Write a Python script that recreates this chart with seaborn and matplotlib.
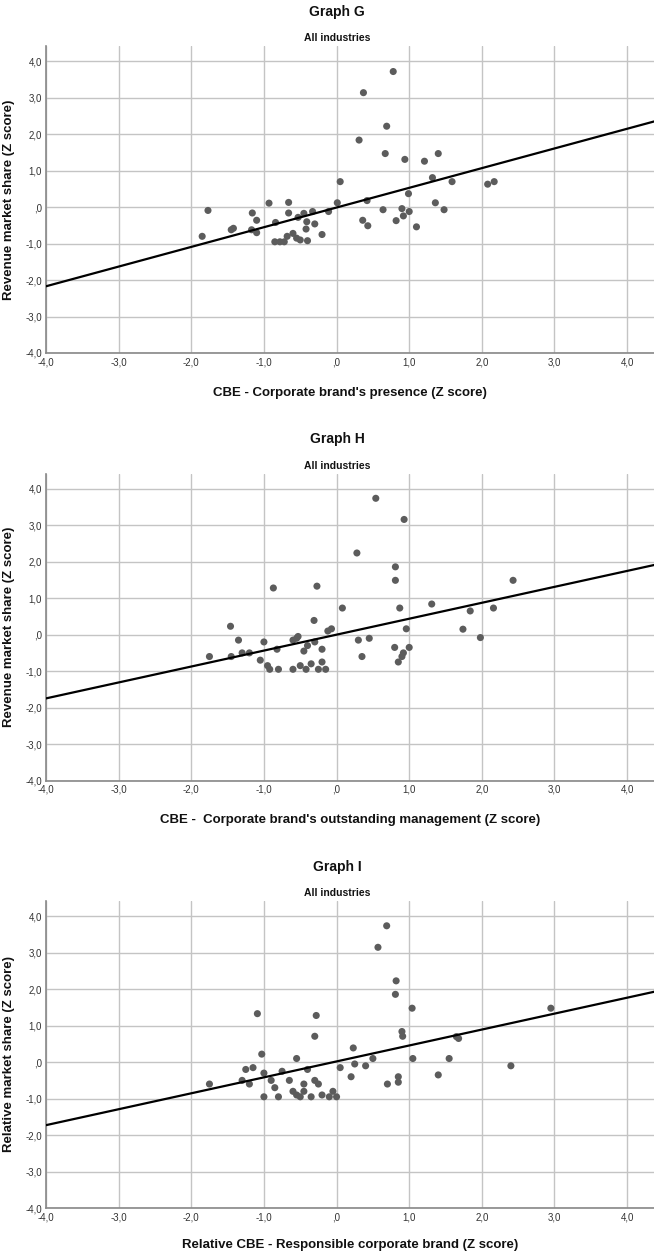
import matplotlib
matplotlib.use("Agg")
import matplotlib.pyplot as plt
import seaborn as sns
import pandas as pd
from matplotlib import font_manager
from matplotlib.ticker import FuncFormatter

# --- data ---
g_x = [0.78, 0.37, 0.69, 0.31, 0.67, 0.94, 1.21, 1.40, 1.32, 1.59, 2.08, 2.17, 0.05, 0.01,
       0.42, 0.99, 1.36, 1.48, 0.64, 0.90, 1.00, 0.92, 0.82, 0.36, 0.43, 1.10, -0.11,
       -1.77, -0.93, -0.66, -1.16, -1.10, -0.66, -0.53, -0.45, -0.33, -0.41, -0.30, -0.84,
       -1.42, -1.17, -0.42, -1.85, -1.45, -1.10, -0.85, -0.78, -0.72, -0.68, -0.60, -0.55,
       -0.50, -0.40, -0.20]
g_y = [3.72, 3.14, 2.22, 1.84, 1.47, 1.31, 1.26, 1.47, 0.81, 0.70, 0.63, 0.70, 0.70, 0.12,
       0.18, 0.37, 0.12, -0.07, -0.07, -0.04, -0.12, -0.24, -0.37, -0.36, -0.51, -0.54, -0.12,
       -0.09, 0.11, 0.13, -0.16, -0.36, -0.16, -0.28, -0.17, -0.12, -0.40, -0.46, -0.42,
       -0.58, -0.62, -0.60, -0.80, -0.62, -0.70, -0.95, -0.95, -0.95, -0.80, -0.72, -0.85,
       -0.90, -0.92, -0.75]

h_x = [0.54, 0.93, 0.28, 0.81, 0.81, 2.43, -0.87, -0.27, 0.08, 0.87, 1.31, 1.84, 2.16, -0.31,
       -0.07, 0.96, 1.74, -1.46, 1.98, -1.75, -1.45, -1.35, -1.30, -1.20, -1.05, -1.00, -0.95,
       -0.92, -0.80, -0.82, -0.60, -0.55, -0.53, -0.50, -0.45, -0.40, -0.42, -0.35, -0.30,
       -0.25, -0.20, -0.20, -0.15, -0.12, 0.30, 0.35, 0.45, 0.80, 0.85, 0.90, 0.92, 1.00, -0.60]
h_y = [3.74, 3.16, 2.24, 1.86, 1.49, 1.49, 1.28, 1.33, 0.73, 0.73, 0.84, 0.65, 0.73, 0.39,
       0.16, 0.16, 0.15, 0.23, -0.08, -0.60, -0.60, -0.15, -0.50, -0.50, -0.70, -0.20, -0.85,
       -0.95, -0.95, -0.40, -0.95, -0.10, -0.05, -0.85, -0.45, -0.30, -0.95, -0.80, -0.20,
       -0.95, -0.75, -0.40, -0.95, 0.10, -0.15, -0.60, -0.10, -0.35, -0.75, -0.60, -0.50, -0.35, -0.15]

i_x = [0.69, 0.57, 0.82, 0.81, 1.04, 2.95, 0.90, 0.91, 1.65, 1.68, 0.23, -1.09, -0.28, -0.30,
       -1.03, -1.75, -1.30, -1.25, -1.20, -1.15, -1.00, -1.00, -0.90, -0.85, -0.80, -0.75,
       -0.65, -0.60, -0.55, -0.55, -0.50, -0.45, -0.45, -0.40, -0.35, -0.30, -0.25, -0.20,
       -0.10, -0.05, 0.00, 0.05, 0.20, 0.25, 0.40, 0.50, 0.70, 0.85, 0.85, 1.05, 1.40, 1.55, 2.40]
i_y = [3.74, 3.15, 2.23, 1.86, 1.48, 1.48, 0.84, 0.71, 0.70, 0.65, 0.39, 1.33, 1.28, 0.71,
       0.22, -0.60, -0.50, -0.20, -0.60, -0.15, -0.30, -0.95, -0.50, -0.70, -0.95, -0.25,
       -0.50, -0.80, 0.10, -0.90, -0.95, -0.80, -0.60, -0.20, -0.95, -0.50, -0.60, -0.90,
       -0.95, -0.80, -0.95, -0.15, -0.40, -0.05, -0.10, 0.10, -0.60, -0.40, -0.55, 0.10, -0.35, 0.10, -0.10]

# fitted lines (intercept, slope) as drawn by SPSS
g_fit = (-0.01, 0.54)
h_fit = (0.00, 0.437)
i_fit = (0.02, 0.437)

titles = ["Graph G", "Graph H", "Graph I"]
subtitle = "All industries"
y_labels = ["Revenue market share (Z score)", "Revenue market share (Z score)",
            "Relative market share (Z score)"]
x_labels = ["CBE - Corporate brand's presence (Z score)",
            "CBE -  Corporate brand's outstanding management (Z score)",
            "Relative CBE - Responsible corporate brand (Z score)"]
ticks = [-4, -3, -2, -1, 0, 1, 2, 3, 4]

sns.set_theme(style="white")
names = {f.name for f in font_manager.fontManager.ttflist}
fam = "Liberation Sans Narrow" if "Liberation Sans Narrow" in names else "Liberation Sans"
plt.rcParams["font.family"] = [fam, "DejaVu Sans"]

def spss_fmt(v, pos):
    s = f"{v:.1f}".replace(".", ",")
    if s == "0,0" or s == "-0,0":
        return ",0"
    return s

fig = plt.figure(figsize=(6.54, 12.51), dpi=100)
W, H = 654, 1251
panel_step = 427.5
xlabel_y = [387, 387, 384]   # last one pulled up a little so it stays inside

sets = [(g_x, g_y, g_fit), (h_x, h_y, h_fit), (i_x, i_y, i_fit)]
for k, (xs, ys, fit) in enumerate(sets):
    off = k * panel_step
    top, bottom = 46 + off, 353 + off
    ax = fig.add_axes([46 / W, 1 - bottom / H, (W - 46) / W, (bottom - top) / H])
    df = pd.DataFrame({"x": xs, "y": ys})

    ax.set_xlim(-4, 4.37)
    ax.set_ylim(-4, 4.42)
    ax.set_xticks(ticks)
    ax.set_yticks(ticks)
    ax.grid(True, color="#c4c4c4", linewidth=1.0)
    ax.set_axisbelow(True)

    sns.scatterplot(data=df, x="x", y="y", ax=ax, color="#5c5c5c", s=26,
                    edgecolor="none", zorder=3)
    ax.axline((0, fit[0]), slope=fit[1], color="black", linewidth=1.6, zorder=4)

    for side in ["top", "right"]:
        ax.spines[side].set_visible(False)
    for side in ["left", "bottom"]:
        ax.spines[side].set_color("#888888")
        ax.spines[side].set_linewidth(1.2)
    ax.xaxis.set_major_formatter(FuncFormatter(spss_fmt))
    ax.yaxis.set_major_formatter(FuncFormatter(spss_fmt))
    ax.tick_params(axis="both", labelsize=7, colors="#333333", length=0, pad=3)

    ax.set_xlabel(x_labels[k], fontsize=9.5, fontweight="bold", color="#111111")
    ax.set_ylabel(y_labels[k], fontsize=9.5, fontweight="bold", color="#111111")
    ax.xaxis.set_label_coords(0.5, -(xlabel_y[k] - 353) / (bottom - top))
    ax.yaxis.set_label_coords(-(46 - 15) / (W - 46), 0.5)

    fig.text(337 / W, 1 - (12 + off) / H, titles[k], ha="center", va="center",
             fontsize=10, fontweight="bold", color="#111111")
    fig.text(337 / W, 1 - (38 + off) / H, subtitle, ha="center", va="center",
             fontsize=7.5, fontweight="bold", color="#111111")

fig.savefig("out.png", dpi=100)
